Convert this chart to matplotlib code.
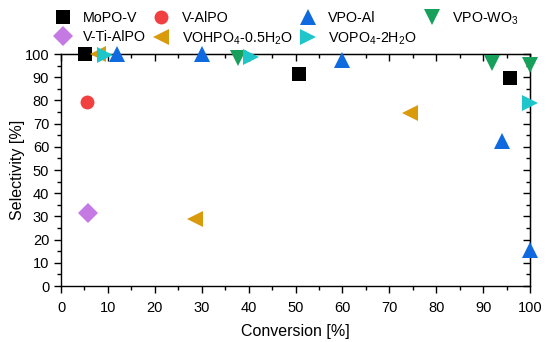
import matplotlib
matplotlib.use("Agg")
import matplotlib.pyplot as plt
from matplotlib.ticker import MultipleLocator

plt.rcParams['font.family'] = ['Liberation Sans', 'DejaVu Sans']
plt.rcParams['mathtext.default'] = 'regular'

# Data (conversion %, selectivity %)
mopo_v_x = [5.1, 50.7, 95.7]
mopo_v_y = [100.0, 91.5, 89.6]
v_alpo_x = [5.5]
v_alpo_y = [79.4]
vpo_al_x = [11.9, 30.0, 59.8, 94.0, 100.0]
vpo_al_y = [100.0, 100.0, 97.3, 62.5, 15.5]
vpo_wo3_x = [37.8, 91.8, 100.0]
vpo_wo3_y = [98.2, 96.3, 95.3]
v_ti_alpo_x = [5.8]
v_ti_alpo_y = [31.3]
vohpo4_x = [7.9, 28.6, 74.4]
vohpo4_y = [100.0, 28.9, 74.7]
vopo4_x = [9.4, 40.6, 100.0]
vopo4_y = [99.7, 98.6, 78.8]

x_ticks = list(range(0, 101, 10))
y_ticks = list(range(0, 101, 10))

fig = plt.figure(figsize=(5.5, 3.42), dpi=100)
ax = fig.add_axes([0.111, 0.1637, 0.8527, 0.6783])

series = [
    (mopo_v_x, mopo_v_y, 's', '#000000', 9.5, 'MoPO-V'),
    (v_alpo_x, v_alpo_y, 'o', '#f23f3f', 10, 'V-AlPO'),
    (vpo_al_x, vpo_al_y, '^', '#0f6ae0', 12, 'VPO-Al'),
    (vpo_wo3_x, vpo_wo3_y, 'v', '#17a05c', 12, 'VPO-WO$_3$'),
    (v_ti_alpo_x, v_ti_alpo_y, 'D', '#c47ae2', 10, 'V-Ti-AlPO'),
    (vohpo4_x, vohpo4_y, '<', '#d99a0c', 12, 'VOHPO$_4$-0.5H$_2$O'),
    (vopo4_x, vopo4_y, '>', '#1ec6ca', 12, 'VOPO$_4$-2H$_2$O'),
]
handles = {}
for x, y, m, c, ms, lab in series:
    h, = ax.plot(x, y, linestyle='none', marker=m, color=c, markersize=ms,
                 markeredgewidth=0, label=lab, clip_on=False, zorder=3)
    handles[lab] = h

ax.set_xlim(0, 100)
ax.set_ylim(0, 100)
ax.set_xticks(x_ticks)
ax.set_yticks(y_ticks)
ax.xaxis.set_minor_locator(MultipleLocator(5))
ax.yaxis.set_minor_locator(MultipleLocator(5))
ax.tick_params(which='major', direction='out', length=5, width=1, labelsize=10.5, colors='black')
ax.tick_params(which='minor', direction='out', length=3, width=1)
ax.tick_params(axis='x', which='major', pad=6)
for s in ax.spines.values():
    s.set_linewidth(1)

top = ax.secondary_xaxis('top')
top.set_xticks(x_ticks)
top.xaxis.set_minor_locator(MultipleLocator(5))
top.tick_params(which='major', direction='in', length=5, width=1, labeltop=False)
top.tick_params(which='minor', direction='in', length=3, width=1)
right = ax.secondary_yaxis('right')
right.set_yticks(y_ticks)
right.yaxis.set_minor_locator(MultipleLocator(5))
right.tick_params(which='major', direction='in', length=5, width=1, labelright=False)
right.tick_params(which='minor', direction='in', length=3, width=1)

ax.set_xlabel('Conversion [%]', fontsize=11.5, labelpad=6)
ax.set_ylabel('Selectivity [%]', fontsize=11.5, labelpad=0)

order = ['MoPO-V', 'V-Ti-AlPO', 'V-AlPO', 'VOHPO$_4$-0.5H$_2$O', 'VPO-Al',
         'VOPO$_4$-2H$_2$O', 'VPO-WO$_3$']
fig.legend([handles[k] for k in order], order, ncol=4, loc='upper left',
           bbox_to_anchor=(0.075, 1.008), frameon=False, fontsize=10.3,
           handletextpad=0.8, columnspacing=0.5, labelspacing=0.35,
           handlelength=1.2)

fig.savefig('out.png', dpi=100)
